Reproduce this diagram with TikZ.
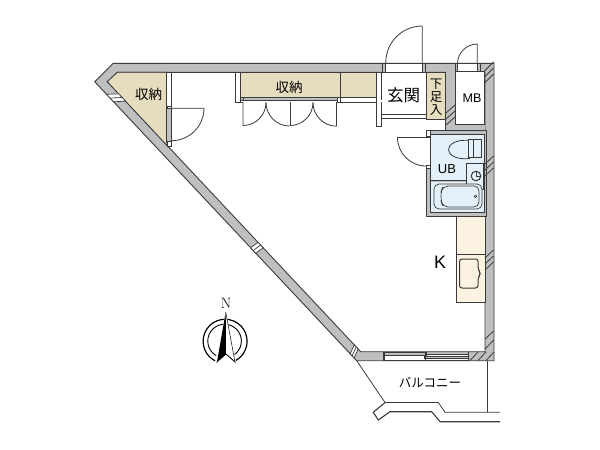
\documentclass[tikz,border=0pt]{standalone}
\usetikzlibrary{calc}
\usepackage{fontspec}
\newfontfamily\jpf{Noto Sans CJK JP}
\setsansfont{Liberation Sans}
\newfontfamily\arl{Liberation Sans}
\definecolor{wallc}{HTML}{BDBFC1}
\definecolor{linec}{HTML}{3A3A3A}
\definecolor{tanc}{HTML}{E6DDBF}
\definecolor{bluec}{HTML}{E4F0F9}
\definecolor{creamc}{HTML}{FCF2E2}
\tikzset{
  wallp/.style={fill=wallc,draw=linec,line width=0.9pt,line join=miter},
  ln/.style={draw=linec,line width=0.8pt},
  thin ln/.style={draw=linec,line width=0.6pt},
  gapw/.style={fill=white,draw=linec,line width=0.8pt},
  lab/.style={inner sep=0pt,text=black},
}
\begin{document}
\begin{tikzpicture}[x=1pt,y=-1pt]
\useasboundingbox (0,0) rectangle (600,450);
% outer shell
\path[wallp] (94.7,81.7)--(113.3,63.3)--(494,63.3)--(494,360.7)--(356.7,360.7)--cycle;
\path[fill=white,draw=linec,line width=0.9pt] (107.3,81.7)--(117.3,72.3)--(485,72.3)--(485,351.7)--(360.7,351.7)--cycle;
% left closet
\path[fill=tanc,draw=linec,line width=0.8pt] (107.3,81.7)--(117.3,72.3)--(166.7,72.3)--(166.7,142)--(167.5,146)--cycle;
\path[wallp,line width=0.7pt] (166.7,105)rectangle(171.5,141);
\path[gapw] (166.7,72.3)rectangle(171.5,106);
\path[gapw] (167,106)rectangle(171.5,108.5);
\path[gapw] (167,141)rectangle(171.5,146);
\draw[ln] (171.5,108.2)--(204,108.2) arc[start angle=0,end angle=90,radius=32.5];
% diag-wall breaks
\foreach \a/\b in {0.045/0.072,0.595/0.615,0.975/0.99}{
  \path[fill=white,draw=linec,line width=0.7pt] ($(94.7,81.7)!\a!(356.7,360.7)$)--($(94.7,81.7)!\b!(356.7,360.7)$)--($(107.3,81.7)!\b!(360.7,351.7)$)--($(107.3,81.7)!\a!(360.7,351.7)$)--cycle;
  \path[draw=linec,line width=0.7pt] ($(94.7,81.7)!0.5*\a+0.5*\b!(356.7,360.7)$)--($(107.3,81.7)!0.5*\a+0.5*\b!(360.7,351.7)$);
}
% middle closet
\path[fill=tanc] (240,72.8)rectangle(376.7,97.5);
\path[fill=wallc,draw=linec,line width=0.7pt] (240,97.5)rectangle(337,100);
\draw[ln] (340,72.8)--(340,97.5);
\draw[ln] (340,97.5)--(376.7,97.5);
\draw[ln,fill=white] (235,72.8)rectangle(240,102);
\draw[ln] (235,102)--(243,102);
\draw[ln] (240,97.5)rectangle(243,100);
\draw[ln] (337,102)--(376.7,102);
\draw[ln] (337,97.5)rectangle(340,102);
% bifold doors
\draw[ln] (243,102)--(243,125.5) arc[start angle=90,end angle=0,radius=23];
\draw[ln] (266,102.5) arc[start angle=180,end angle=90,radius=23.5];
\draw[ln] (290,102)--(290,125.5);
\draw[ln] (313,102.5) arc[start angle=0,end angle=90,radius=23];
\draw[ln] (313,102.5) arc[start angle=180,end angle=90,radius=23.7];
\draw[ln] (336.7,102)--(336.7,126.2);
% entry
\path[gapw,draw=none] (382,62.5)rectangle(425.7,115);
\draw[ln] (381.7,72.3)--(381.7,100);
\draw[ln] (376.7,72.3)--(376.7,126.8)--(381.7,126.8)--(381.7,118.5)--(425.7,118.5);
\draw[ln] (381.7,114.8)--(425.7,114.8);
\draw[ln] (381.7,102)--(381.7,118.5);
\draw[ln,fill=white] (382.7,63.3)rectangle(425.7,72.3);
\draw[ln,fill=wallc] (382.7,63.3)rectangle(385.7,72.3);
\draw[ln,fill=wallc] (422.3,63.3)rectangle(425.7,72.3);
\draw[ln] (422.3,63.3)--(422.3,26) arc[start angle=-90,end angle=-180,radius=36.5] --(385.8,63.3);
% shoe rack
\path[fill=tanc,draw=linec,line width=0.8pt] (426,72.3)rectangle(445.7,119.5);
% core wall
\path[wallp,draw=none] (445.7,71)rectangle(485,134);
\draw[ln] (445.7,72.3)--(445.7,130);
\path[fill=white,draw=linec,line width=0.8pt] (455,71.7)--(484,71.7)--(484,124)--(455,124)--cycle;
\path[wallp,draw=none] (478,63.9)rectangle(484,71.2);
\foreach \y in {113,119,125}{\draw[ln] (446,\y)--(455,\y-8);}
% MB door
\draw[ln,fill=white] (455,63.3)rectangle(480,71.7);
\draw[ln,fill=wallc] (455,63.3)rectangle(457.5,71.7);
\draw[ln,fill=wallc] (477.3,63.3)rectangle(480,71.7);
\draw[ln] (477.3,63.3)--(477.3,44) arc[start angle=-90,end angle=-180,radius=19.8] --(457.5,63.3);
% unit bath
\path[fill=wallc,draw=linec,line width=0.7pt] (426,130)rectangle(486,216.7);
\path[fill=bluec,draw=linec,line width=0.7pt] (430,134.5)rectangle(484,212.7);
\path[fill=wallc] (431,180)rectangle(484,181.5);
\draw[thin ln] (430,180.7)--(484,180.7);
\path[fill=white,draw=linec,line width=0.7pt] (426,130.5)rectangle(430,136);
\path[fill=white] (425,137.9)rectangle(429.6,164.5);
\path[fill=white,draw=linec,line width=0.7pt] (426,165)rectangle(430,168);
\draw[ln] (430,137.5)--(397.5,137.5) arc[start angle=180,end angle=90,radius=28.5];
% toilet
\draw[ln,fill=bluec] (470,140.5) .. controls (455,139) and (448,145) .. (448.5,150) .. controls (449,155) and (456,160) .. (470,158.5);
\path[draw=linec,fill=bluec,line width=0.7pt] (468.5,139.5)--(481,139.5)--(481,157.5)--(468.5,157.5)--cycle;
\draw[thin ln] (473,139.5)--(473,157.5);
% wash basin
\path[fill=bluec,draw=linec,line width=0.9pt] (466.7,163.3)rectangle(483,189);
\draw[line width=1pt,draw=linec] (476,176) circle[radius=4.8];
\draw[line width=1pt,draw=linec] (476,176)--(480,176) (476,172)--(476,176);
% bath
\path[fill=bluec,draw=linec,line width=0.7pt,rounded corners=5pt] (434,184)rectangle(482,209);
\path[draw=linec,fill=bluec,line width=0.7pt,rounded corners=5pt] (443,186)--(479,186)--(479,207)--(443,207)--(441,201)--(441,192)--cycle;
\draw[thin ln] (475.5,196.3) circle[radius=1.3];
% kitchen
\path[fill=creamc,draw=linec,line width=0.7pt] (456,216.7)rectangle(485,302);
\draw[thin ln] (456,254)--(485,254);
\path[fill=creamc,draw=linec,line width=1pt,rounded corners=2.5pt] (459.5,259)--(478,259)--(478,269)--(480,272)--(480,275)--(478,278)--(478,288)--(459.5,288)--cycle;
% right-wall hatches
\foreach \y in {252,258,264}{\draw[ln] (485,\y+6)--(493.5,\y-2);}
\foreach \y in {158,164,170}{\draw[ln] (485,\y+6)--(493.5,\y-2);}
\foreach \y in {65,71,77}{\draw[ln] (484.5,\y+6)--(493.5,\y-3);}
% balcony window
\path[wallp,draw=none] (365,352.5)rectangle(493,360);
\path[fill=white,draw=linec,line width=0.7pt] (384,354)rectangle(468,360.5);
\path[fill=wallc,draw=linec,line width=0.7pt] (384,352)rectangle(426,355);
\path[fill=wallc,draw=linec,line width=0.7pt] (424,356)rectangle(468,358.5);
\draw[line width=1pt,draw=linec] (383.5,351.7)--(383.5,360.7) (425,351.7)--(425,360.7) (468,351.7)--(468,360.7);
\foreach \x in {472,480,488}{\draw[ln] (\x-2,360.5)--(\x+6,352);}
\draw[ln] (485,339)--(493.7,331) (485,349)--(493.7,340);
% balcony
\draw[ln] (356.7,360.7)--(385,402.5)--(438.3,402.5)--(445,412.3)--(500,412.3);
\draw[line width=1.1pt,draw=linec] (385,402.5)--(373.3,412.3)--(378.3,420)--(390,411.7)--(431.7,411.7)--(440,421.7)--(500,421.7);
\draw[ln] (487.7,360.7)--(487.7,412.3);
% compass
\draw[line width=1.2pt] (216.5,361.5) arc[start angle=113,end angle=427,radius=22];
\draw[line width=0.9pt] (218,356.5) arc[start angle=113,end angle=427,radius=16.8];
\path[fill=white] (215,362) -- (225.7,312)--(236,362)--cycle;
\path[fill=black] (225.7,312)--(217,362)--(226,354)--cycle;
\draw[line width=0.5pt] (225.7,312)--(235,362)--(226,354);
\draw[line width=0.6pt] (216.5,362.5)--(226,354)--(235.5,362.5);
\node[lab,font=\rmfamily\fontsize{15}{15}\selectfont] (north) at (226,303) {N};
% labels
\node[lab,font=\jpf\fontsize{13.5}{13.5}\selectfont] (a) at (148.5,94.5) {収納};
\node[lab,font=\jpf\fontsize{13.5}{13.5}\selectfont] (b) at (289,87) {収納};
\node[lab,font=\jpf\fontsize{16.5}{16.5}\selectfont] (c) at (403.5,95) {玄関};
\node[lab,font=\jpf\fontsize{12.5}{13}\selectfont,align=center] (d) at (436,97) {下\\足\\入};
\node[lab,font=\arl\fontsize{12.5}{12}\selectfont] (e) at (472,98.5) {MB};
\node[lab,font=\arl\fontsize{13}{12}\selectfont] (f) at (447,169.5) {UB};
\node[lab,font=\arl\fontsize{18}{17}\selectfont] (g) at (440,262) {K};
\node[lab,font=\jpf\fontsize{12.5}{12}\selectfont] (h) at (430,383) {バルコニー};
\end{tikzpicture}
\end{document}
